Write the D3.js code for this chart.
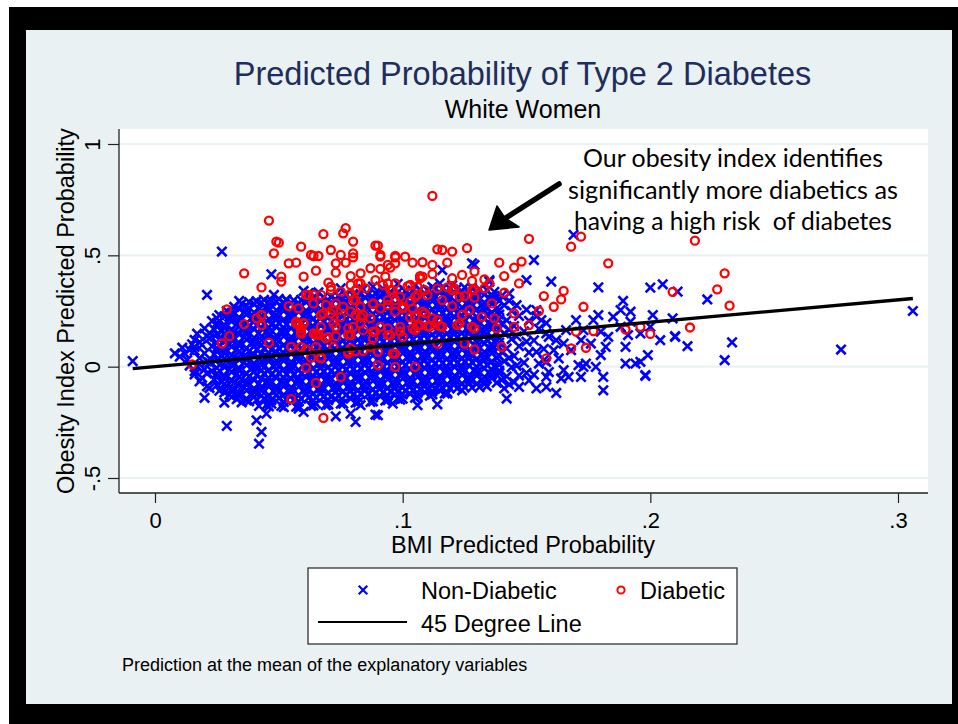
<!DOCTYPE html>
<html>
<head>
<meta charset="utf-8">
<script src="https://cdn.jsdelivr.net/npm/d3@7/dist/d3.min.js"></script>
<style>
body{margin:0;background:#fff;}
text{font-family:"Liberation Sans",Arial,sans-serif;}
</style>
</head>
<body>
<div id="chart"></div>
<script>
// predicted probabilities x1000, flat pairs: BMI model, obesity index model
const nonDiabetic = [
// dense cloud
17,148, 18,110, 16,72, 18,38, 17,2, 16,-35, 18,-66,
20,172, 21,136, 19,98, 20,60, 21,24, 20,-12, 19,-50, 21,-88,
23,205, 24,166, 22,128, 23,92, 24,55, 22,18, 23,-20, 24,-58, 22,-96,
26,232, 25,196, 27,158, 26,120, 25,84, 27,46, 26,8, 25,-30, 27,-70, 26,-108,
29,250, 30,212, 28,176, 29,138, 30,100, 28,62, 29,26, 30,-12, 28,-50, 29,-88, 30,-126,
32,268, 31,230, 33,192, 32,156, 31,118, 33,80, 32,42, 31,4, 33,-34, 32,-72, 31,-110, 33,-146,
35,282, 36,244, 34,208, 35,170, 36,134, 34,96, 35,58, 36,20, 34,-18, 35,-56, 36,-94, 34,-132, 35,-160,
38,290, 37,254, 39,218, 38,180, 37,144, 39,106, 38,70, 37,32, 39,-6, 38,-44, 37,-82, 39,-120, 38,-156,
41,294, 42,258, 40,222, 41,186, 42,150, 40,112, 41,76, 42,38, 40,0, 41,-38, 42,-76, 40,-114, 41,-150, 42,-176,
44,300, 45,264, 43,228, 44,192, 45,156, 43,118, 44,82, 45,44, 43,6, 44,-32, 45,-70, 43,-108, 44,-144, 45,-172,
47,296, 46,260, 48,224, 47,188, 46,150, 48,114, 47,76, 46,40, 48,2, 47,-36, 46,-74, 48,-112, 47,-150, 46,-178,
50,304, 51,268, 49,232, 50,196, 51,158, 49,122, 50,84, 51,48, 49,10, 50,-28, 51,-66, 49,-104, 50,-142, 51,-176,
53,302, 52,264, 54,228, 53,190, 52,154, 54,116, 53,80, 52,42, 54,4, 53,-34, 52,-72, 54,-110, 53,-148, 52,-182,
56,298, 57,262, 55,226, 56,188, 57,152, 55,114, 56,78, 57,40, 55,2, 56,-36, 57,-74, 55,-112, 56,-150, 57,-180,
59,300, 58,264, 60,228, 59,192, 58,156, 60,118, 59,82, 58,44, 60,8, 59,-30, 58,-68, 60,-106, 59,-144, 58,-178,
62,306, 63,270, 61,234, 62,196, 63,160, 61,124, 62,86, 63,50, 61,12, 62,-26, 63,-64, 61,-102, 62,-140, 63,-176,
65,308, 64,272, 66,236, 65,198, 64,162, 66,126, 65,88, 64,52, 66,14, 65,-24, 64,-62, 66,-100, 65,-138, 64,-174,
68,312, 69,276, 67,240, 68,202, 69,166, 67,128, 68,92, 69,54, 67,16, 68,-22, 69,-60, 67,-98, 68,-136, 69,-172,
71,314, 70,278, 72,242, 71,204, 70,168, 72,130, 71,94, 70,56, 72,18, 71,-20, 70,-58, 72,-96, 71,-134, 70,-170,
74,318, 75,282, 73,246, 74,208, 75,172, 73,134, 74,98, 75,60, 73,22, 74,-16, 75,-54, 73,-92, 74,-130, 75,-166,
77,320, 76,284, 78,248, 77,210, 76,174, 78,136, 77,100, 76,62, 78,24, 77,-14, 76,-52, 78,-90, 77,-128, 76,-166,
80,322, 81,286, 79,250, 80,212, 81,176, 79,138, 80,102, 81,64, 79,26, 80,-12, 81,-50, 79,-88, 80,-126, 81,-162,
83,326, 82,290, 84,254, 83,216, 82,180, 84,142, 83,106, 82,68, 84,30, 83,-8, 82,-46, 84,-84, 83,-122, 82,-160,
86,324, 87,288, 85,252, 86,214, 87,178, 85,140, 86,104, 87,66, 85,28, 86,-10, 87,-48, 85,-86, 86,-124, 87,-158,
89,330, 88,294, 90,258, 89,220, 88,184, 90,146, 89,110, 88,72, 90,34, 89,-4, 88,-42, 90,-80, 89,-118, 88,-156,
92,332, 93,296, 91,260, 92,222, 93,186, 91,148, 92,112, 93,74, 91,36, 92,-2, 93,-40, 91,-78, 92,-116, 93,-152,
95,336, 94,300, 96,264, 95,226, 94,190, 96,152, 95,116, 94,78, 96,40, 95,2, 94,-36, 96,-74, 95,-112, 94,-150,
98,334, 99,298, 97,262, 98,224, 99,188, 97,150, 98,114, 99,76, 97,38, 98,0, 99,-38, 97,-76, 98,-114, 99,-148,
101,340, 100,304, 102,268, 101,230, 100,194, 102,156, 101,120, 100,82, 102,44, 101,6, 100,-32, 102,-70, 101,-108, 100,-144,
104,342, 105,306, 103,270, 104,232, 105,196, 103,158, 104,122, 105,84, 103,46, 104,8, 105,-30, 103,-68, 104,-106, 105,-140,
107,346, 106,310, 108,274, 107,236, 106,200, 108,162, 107,126, 106,88, 108,50, 107,12, 106,-26, 108,-64, 107,-102, 106,-134,
110,344, 111,308, 109,272, 110,234, 111,198, 109,160, 110,124, 111,86, 109,48, 110,10, 111,-28, 109,-66, 110,-104, 111,-130,
113,348, 112,312, 114,276, 113,238, 112,202, 114,164, 113,128, 112,90, 114,52, 113,14, 112,-24, 114,-62, 113,-100, 112,-124,
116,350, 117,314, 115,278, 116,240, 117,204, 115,166, 116,130, 117,92, 115,54, 116,16, 117,-22, 115,-60, 116,-98, 117,-120,
119,352, 118,316, 120,280, 119,242, 118,206, 120,168, 119,132, 118,94, 120,56, 119,18, 118,-20, 120,-58, 119,-96, 118,-116,
122,350, 123,314, 121,278, 122,240, 123,204, 121,166, 122,130, 123,92, 121,54, 122,16, 123,-22, 121,-60, 122,-98,
125,356, 124,320, 126,284, 125,246, 124,210, 126,172, 125,136, 124,98, 126,60, 125,22, 124,-16, 126,-54, 125,-92, 124,-106,
128,354, 129,318, 127,282, 128,244, 129,208, 127,170, 128,134, 129,96, 127,58, 128,20, 129,-18, 127,-56, 128,-94,
131,348, 130,312, 132,276, 131,238, 130,202, 132,164, 131,128, 130,90, 132,52, 131,14, 130,-24, 132,-62, 131,-92,
134,344, 135,306, 133,270, 134,232, 135,196, 133,158, 134,122, 135,84, 133,46, 134,8, 135,-30, 133,-68, 134,-88,
137,336, 136,300, 138,262, 137,226, 136,188, 138,152, 137,114, 136,78, 138,40, 137,2, 136,-36, 138,-72,
140,318, 141,276, 139,234, 140,192, 141,150, 139,108, 140,66, 141,24, 139,-18, 140,-60,
143,296, 144,250, 142,208, 143,166, 144,124, 142,82, 143,40, 144,-2, 142,-44, 143,-80,
146,276, 147,228, 145,182, 146,136, 147,92, 145,48, 146,4, 147,-40, 145,-70,
150,256, 151,206, 149,158, 150,112, 151,64, 149,18, 150,-28, 151,-62,
154,226, 155,170, 153,118, 154,66, 155,14, 153,-36,
158,196, 159,134, 157,80, 158,22, 159,-24,
// dense cloud, in between
25,184, 25,146, 25,108, 25,70, 25,32, 25,-6, 25,-44, 25,-82,
28,226, 28,188, 28,150, 28,112, 28,74, 28,36, 28,-2, 28,-40, 28,-78, 28,-116,
31,242, 31,204, 31,166, 31,128, 31,90, 31,52, 31,14, 31,-24, 31,-62, 31,-100, 31,-136,
34,259, 34,221, 34,183, 34,145, 34,107, 34,69, 34,31, 34,-7, 34,-45, 34,-83, 34,-121,
37,273, 37,235, 37,197, 37,159, 37,121, 37,83, 37,45, 37,7, 37,-31, 37,-69, 37,-107, 37,-145,
40,282, 40,244, 40,206, 40,168, 40,130, 40,92, 40,54, 40,16, 40,-22, 40,-60, 40,-98, 40,-136,
43,288, 43,250, 43,212, 43,174, 43,136, 43,98, 43,60, 43,22, 43,-16, 43,-54, 43,-92, 43,-130,
46,290, 46,252, 46,214, 46,176, 46,138, 46,100, 46,62, 46,24, 46,-14, 46,-52, 46,-90, 46,-128, 46,-160,
49,292, 49,254, 49,216, 49,178, 49,140, 49,102, 49,64, 49,26, 49,-12, 49,-50, 49,-88, 49,-126,
52,288, 52,250, 52,212, 52,174, 52,136, 52,98, 52,60, 52,26, 52,-12, 52,-50, 52,-88, 52,-126, 52,-158,
55,286, 55,248, 55,210, 55,172, 55,134, 55,96, 55,58, 55,22, 55,-16, 55,-54, 55,-92, 55,-130,
58,284, 58,246, 58,208, 58,170, 58,132, 58,94, 58,62, 58,24, 58,-14, 58,-52, 58,-90, 58,-128, 58,-156,
61,290, 61,252, 61,214, 61,176, 61,138, 61,100, 61,67, 61,29, 61,-9, 61,-47, 61,-85, 61,-123,
64,292, 64,254, 64,216, 64,180, 64,142, 64,106, 64,70, 64,32, 64,-6, 64,-44, 64,-82, 64,-120, 64,-152,
67,296, 67,258, 67,220, 67,184, 67,146, 67,110, 67,72, 67,34, 67,-4, 67,-42, 67,-80, 67,-118,
70,298, 70,260, 70,222, 70,186, 70,150, 70,112, 70,74, 70,36, 70,-2, 70,-40, 70,-78, 70,-116, 70,-150,
73,300, 73,264, 73,226, 73,188, 73,152, 73,116, 73,78, 73,40, 73,2, 73,-36, 73,-74, 73,-112, 73,-146,
76,304, 76,266, 76,230, 76,192, 76,156, 76,118, 76,80, 76,42, 76,4, 76,-34, 76,-72, 76,-110,
79,306, 79,268, 79,232, 79,194, 79,158, 79,120, 79,82, 79,44, 79,6, 79,-32, 79,-70, 79,-108, 79,-144,
82,308, 82,272, 82,236, 82,198, 82,160, 82,122, 82,86, 82,48, 82,9, 82,-29, 82,-67, 82,-105, 82,-140,
85,310, 85,272, 85,234, 85,196, 85,160, 85,122, 85,86, 85,48, 85,10, 85,-28, 85,-66, 85,-104,
88,312, 88,276, 88,238, 88,200, 88,164, 88,126, 88,88, 88,50, 88,12, 88,-26, 88,-64, 88,-102, 88,-138,
91,314, 91,278, 91,240, 91,202, 91,166, 91,128, 91,92, 91,54, 91,16, 91,-22, 91,-60, 91,-98, 91,-134,
94,318, 94,280, 94,246, 94,208, 94,170, 94,134, 94,96, 94,58, 94,19, 94,-19, 94,-57, 94,-95, 94,-130,
97,318, 97,282, 97,244, 97,208, 97,172, 97,134, 97,96, 97,58, 97,20, 97,-18, 97,-56, 97,-94, 97,-126,
100,322, 100,286, 100,250, 100,212, 100,174, 100,136, 100,98, 100,60, 100,22, 100,-16, 100,-54, 100,-92, 100,-124,
103,324, 103,288, 103,250, 103,214, 103,178, 103,140, 103,102, 103,64, 103,26, 103,-12, 103,-50, 103,-88, 103,-122,
106,326, 106,290, 106,254, 106,216, 106,180, 106,142, 106,104, 106,67, 106,29, 106,-9, 106,-47, 106,-85, 106,-118,
109,328, 109,292, 109,256, 109,218, 109,182, 109,144, 109,106, 109,68, 109,30, 109,-8, 109,-46, 109,-84, 109,-114,
112,330, 112,294, 112,258, 112,220, 112,183, 112,145, 112,107, 112,69, 112,31, 112,-7, 112,-45, 112,-83, 112,-110,
115,332, 115,296, 115,260, 115,222, 115,186, 115,148, 115,110, 115,72, 115,34, 115,-4, 115,-42, 115,-80, 115,-106,
118,334, 118,298, 118,262, 118,224, 118,188, 118,150, 118,112, 118,74, 118,36, 118,-2, 118,-40, 118,-78,
121,332, 121,296, 121,260, 121,222, 121,186, 121,148, 121,112, 121,74, 121,36, 121,-2, 121,-40, 121,-78,
124,338, 124,302, 124,266, 124,228, 124,190, 124,152, 124,114, 124,76, 124,38, 124,0, 124,-38, 124,-76,
127,336, 127,300, 127,264, 127,226, 127,190, 127,152, 127,116, 127,78, 127,40, 127,2, 127,-36, 127,-74,
130,330, 130,294, 130,258, 130,222, 130,186, 130,148, 130,110, 130,72, 130,36, 130,-2, 130,-40, 130,-76,
133,324, 133,288, 133,252, 133,214, 133,178, 133,140, 133,104, 133,66, 133,30, 133,-8, 133,-46, 133,-78,
136,318, 136,282, 136,244, 136,208, 136,170, 136,134, 136,96, 136,60, 136,24, 136,-14, 136,-52,
139,296, 139,254, 139,212, 139,170, 139,128, 139,88, 139,48, 139,8, 139,-30,
// upper edge of the cloud
48,322, 60,340, 62,330, 75,352, 84,348, 88,360, 98,372, 105,365, 112,358, 120,366, 66,334, 92,350,
// scattered points
8,60, 10,45, 12,59, 11,85, 13,30, 14,75, 15,100, 14,5, 16,-20, 16,120,
-9,25, 27,517, 21,322, 34,295, 47,415, 41,292, 16,89, 22,151, 25,217, 30,224, 53,299,
20,-140, 29,-266, 42,-346, 43,-293, 41,-241, 28,-161, 21,-31, 25,-46, 33,-113, 37,-151, 45,-211, 47,-166,
58,-188, 60,-203, 65,-166, 69,-173, 73,-223, 79,-211, 81,-248, 83,-173, 89,-215, 96,-166, 98,-143,
106,-173, 114,-169, 118,-121, 90,-218, 142,-143, 141,-98,
128,464, 135,389, 115,374, 116,434, 153,479, 150,389, 160,382, 179,356, 200,355, 205,370, 189,295,
192,247, 201,232, 210,134, 204,119, 190,89, 199,52, 198,-38, 190,14, 194,14, 181,-46, 181,-106,
162,-118, 158,-91, 154,-98, 147,-91, 171,7, 173,-1, 178,-1, 165,-16, 167,-46, 164,-53, 158,-46,
180,52, 182,89, 183,134, 179,232, 177,209, 185,224, 188,254, 192,202, 188,179, 191,142, 180,157,
170,209, 173,164, 176,104, 172,119, 166,164, 165,104, 168,74, 162,119, 161,74, 163,37, 157,29,
172,-46, 174,14, 158,149, 156,209, 154,254, 143,329, 138,314, 135,382, 129,457,
211,337, 223,302, 209,217, 200,179, 196,149, 210,137, 215,92, 233,109, 230,29, 196,22, 198,-41,
277,77, 306,250, 169,592
];

const diabetic = [
46,656, 49,562, 48,509, 36,419, 43,356, 29,257, 36,191, 30,137, 27,104, 15,10,
50,557, 59,539, 54,464, 57,467, 51,404, 51,382, 60,404, 61,322, 41,217, 43,232, 43,187, 46,107,
54,272, 58,262, 59,172, 60,197, 57,194, 59,157, 55,89, 61,-5, 65,89, 63,41, 65,-73, 55,-146,
63,502, 64,497, 66,497, 68,595, 65,431, 71,524, 73,464, 73,422, 75,502, 76,599, 77,622, 80,562,
77,467, 80,509, 79,407, 83,419, 89,544, 90,544, 91,502, 87,442, 91,439, 95,445, 97,497, 101,494,
97,464, 104,467, 108,469, 114,527, 116,524, 120,517, 126,532, 112,457, 118,467, 107,407, 112,416,
124,412, 128,385, 118,356, 121,352, 129,347, 129,310, 125,317, 70,377, 79,367, 83,374, 64,322,
67,40, 61,77, 75,-46, 68,-230, 78,59, 81,70, 84,71, 90,7, 97,-1, 105,-1, 96,59, 90,67,
114,104, 125,104, 129,77, 122,187, 129,172, 115,182, 110,182, 106,182, 99,179, 94,142, 89,157,
83,194, 78,142, 73,137, 69,127, 65,142, 73,179, 58,187, 59,149, 57,202, 81,232, 84,232, 88,281,
94,299, 97,299, 100,262, 103,221, 104,262, 108,247, 112,217, 116,299, 120,272, 124,232, 96,344,
92,367, 103,367, 106,322, 109,344, 80,299, 76,269, 72,254, 68,239, 80,179, 91,179, 87,89, 79,82,
114,209, 127,254, 80,491, 71,359, 91,494, 94,457, 97,491, 108,404, 120,397, 133,352, 135,374,
128,344, 123,314, 120,344, 114,352, 110,322, 106,359, 107,397, 102,362, 99,314, 105,314, 103,292,
95,344, 97,374, 94,374, 93,404, 89,389, 85,352, 82,374, 81,344, 79,329, 75,337, 71,344, 67,322,
62,322, 64,284, 69,277, 73,284, 81,299, 83,269, 88,284, 91,262, 94,277, 97,247, 100,269, 105,224,
109,239, 116,179, 111,179, 107,187, 104,172, 99,157, 94,172, 87,217, 83,224, 79,247, 75,224,
71,239, 67,232, 72,194, 67,179, 60,194, 66,142, 70,134, 78,172, 79,142, 84,164, 88,157, 88,127,
95,142, 100,134, 105,164, 123,194, 128,179, 132,224, 137,217, 138,172, 140,89, 145,239, 145,179,
97,59, 67,37, 78,67, 64,149, 72,89, 59,89,
112,767, 218,566, 230,419, 227,347, 209,336, 232,274, 216,176, 200,147, 196,179, 172,584, 168,539,
151,574, 183,464, 148,472, 145,445, 139,467, 141,407, 190,167, 177,160, 174,85, 168,82, 170,157,
173,269, 165,340, 164,302, 157,317, 161,269, 158,37, 155,250, 151,187, 147,374, 141,332, 136,284,
133,392, 129,427
];

const xTicks = [0, .1, .2, .3];
const yTicks = [-.5, 0, .5, 1];
const seriesNames = ["Non-Diabetic", "Diabetic", "45 Degree Line"];

function toPoints(a){
    let out=[];
    for(let i=0;i<a.length;i+=2){ out.push({x:a[i]/1000, y:a[i+1]/1000}); }
    return out;
}
// stata style labels: .5, -.5
const fmt = v => v===0 ? "0" : String(v).replace("0.", ".");

const W=958, H=724;
const plot={left:119, right:928, top:129, bottom:493};

const svg=d3.select("#chart").append("svg").attr("width",W).attr("height",H);

// frame
svg.append("rect").attr("x",9).attr("y",7).attr("width",W-9).attr("height",H-7).attr("fill","#000");
svg.append("rect").attr("x",26).attr("y",30).attr("width",926).attr("height",674).attr("fill","#eaf1f3");
svg.append("rect").attr("x",plot.left).attr("y",plot.top)
    .attr("width",plot.right-plot.left).attr("height",plot.bottom-plot.top).attr("fill","#fff");

const x=d3.scaleLinear().domain([0,.3]).range([155,898]);
const y=d3.scaleLinear().domain([-.5,1]).range([478,144]);

// grid
svg.append("g").selectAll("line").data(yTicks).enter().append("line")
    .attr("x1",plot.left).attr("x2",plot.right)
    .attr("y1",d=>y(d)).attr("y2",d=>y(d))
    .attr("stroke","#eaf1f3").attr("stroke-width",2.2);

// axes
let xAxis=svg.append("g").attr("transform","translate(0,"+plot.bottom+")")
    .call(d3.axisBottom(x).tickValues(xTicks).tickFormat(fmt).tickSize(10));
xAxis.select(".domain").remove();
xAxis.selectAll("line").attr("stroke","#222").attr("stroke-width",1.2);
xAxis.selectAll("text").attr("font-size",22).attr("fill","#000").attr("dy","0").attr("y",35);

let yAxis=svg.append("g").attr("transform","translate("+plot.left+",0)")
    .call(d3.axisLeft(y).tickValues(yTicks).tickFormat(fmt).tickSize(11));
yAxis.select(".domain").remove();
yAxis.selectAll("line").attr("stroke","#222").attr("stroke-width",1.2);
yAxis.selectAll("text").attr("font-size",22).attr("fill","#000")
    .attr("transform","rotate(-90)").attr("x",0).attr("y",-19).attr("dy","0")
    .attr("text-anchor","middle");

svg.append("line").attr("x1",plot.left).attr("x2",plot.left).attr("y1",plot.top).attr("y2",plot.bottom)
    .attr("stroke","#222").attr("stroke-width",1.3);
svg.append("line").attr("x1",plot.left).attr("x2",plot.right).attr("y1",plot.bottom).attr("y2",plot.bottom)
    .attr("stroke","#222").attr("stroke-width",1.3);

// points
const blue=toPoints(nonDiabetic), red=toPoints(diabetic);
const cross="M-4.7,-4.7L4.7,4.7M-4.7,4.7L4.7,-4.7";

svg.append("g").selectAll("path").data(blue).enter().append("path")
    .attr("d",cross)
    .attr("transform",d=>"translate("+x(d.x)+","+y(d.y)+")")
    .attr("stroke","#0000ff").attr("stroke-width",2.6).attr("fill","none");

svg.append("g").selectAll("circle").data(red).enter().append("circle")
    .attr("cx",d=>x(d.x)).attr("cy",d=>y(d.y)).attr("r",4)
    .attr("stroke","#ff0000").attr("stroke-width",2.3).attr("fill","none");

// 45 degree line over the range of x
const all=blue.concat(red);
const ext=d3.extent(all,d=>d.x);
svg.append("line")
    .attr("x1",x(ext[0])).attr("y1",y(ext[0])).attr("x2",x(ext[1])).attr("y2",y(ext[1]))
    .attr("stroke","#000").attr("stroke-width",3.4);

// titles
svg.append("text").attr("x",522.5).attr("y",85).attr("text-anchor","middle")
    .attr("font-size",32.5).attr("fill","#1f2d5c").text("Predicted Probability of Type 2 Diabetes");
svg.append("text").attr("x",523).attr("y",118).attr("text-anchor","middle")
    .attr("font-size",25).attr("fill","#000").text("White Women");
svg.append("text").attr("x",523).attr("y",553).attr("text-anchor","middle")
    .attr("font-size",23.5).attr("fill","#000").text("BMI Predicted Probability");
svg.append("text").attr("transform","translate(74,311) rotate(-90)").attr("text-anchor","middle")
    .attr("font-size",23.5).attr("fill","#000").text("Obesity Index Predicted Probability");

// annotation
const note=["Our obesity index identifies","significantly more diabetics as","having a high risk  of diabetes"];
const noteY=[167,199,230], noteW=[300,330,318];
svg.append("g").selectAll("text").data(note).enter().append("text")
    .attr("x",733).attr("y",(d,i)=>noteY[i]).attr("text-anchor","middle")
    .style("font-family","Lato, 'Open Sans', sans-serif").attr("font-size",25)
    .attr("textLength",(d,i)=>noteW[i]).attr("lengthAdjust","spacingAndGlyphs")
    .style("white-space","pre").attr("fill","#000").text(d=>d);

svg.append("line").attr("x1",559).attr("y1",184).attr("x2",504).attr("y2",219)
    .attr("stroke","#000").attr("stroke-width",5.5).attr("stroke-linecap","round");
svg.append("path").attr("d","M489,230L497,206L505,218L519,227Z").attr("fill","#000")
    .attr("stroke","#000").attr("stroke-width",1.5).attr("stroke-linejoin","round");

// legend
let lg=svg.append("g");
lg.append("rect").attr("x",308).attr("y",568).attr("width",429).attr("height",76)
    .attr("fill","#fff").attr("stroke","#333").attr("stroke-width",1.3);
lg.append("path").attr("d","M-4.3,-4.3L4.3,4.3M-4.3,4.3L4.3,-4.3").attr("transform","translate(363,590)")
    .attr("stroke","#0000ff").attr("stroke-width",2.2).attr("fill","none");
lg.append("circle").attr("cx",621).attr("cy",590).attr("r",3.6)
    .attr("stroke","#ff0000").attr("stroke-width",2).attr("fill","none");
lg.append("line").attr("x1",318).attr("x2",407).attr("y1",622).attr("y2",622)
    .attr("stroke","#000").attr("stroke-width",2);
lg.selectAll("text").data(seriesNames).enter().append("text")
    .attr("x",(d,i)=>i===1?640:421).attr("y",(d,i)=>i===2?632:599)
    .attr("font-size",23.5).attr("fill","#000").text(d=>d);

svg.append("text").attr("x",122).attr("y",671).attr("font-size",18).attr("fill","#000")
    .text("Prediction at the mean of the explanatory variables");
</script>
</body>
</html>
